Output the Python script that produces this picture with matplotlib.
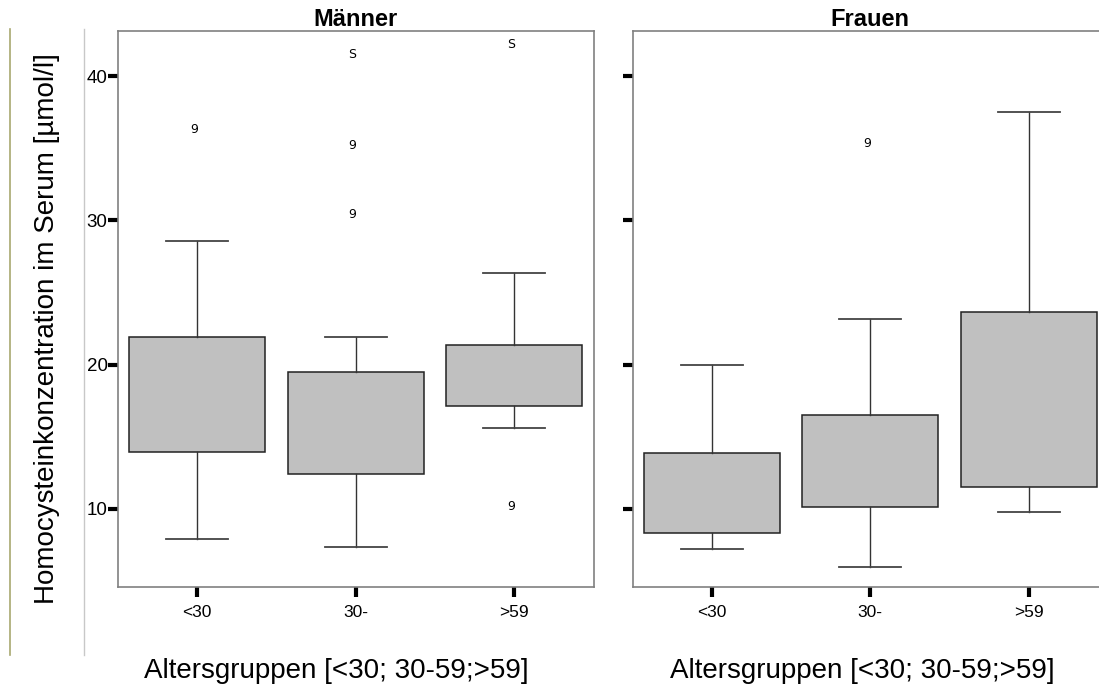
import matplotlib
matplotlib.use('Agg')
from matplotlib import pyplot

GROUPS = ['<30', '30-', '>59']

# Männer
MEN_Q1 = [13.97, 12.40, 17.14]
MEN_Q3 = [21.92, 19.47, 21.39]
MEN_LOW = [7.90, 7.37, 15.63]
MEN_HIGH = [28.60, 21.90, 26.33]
MEN_OUT_GROUP = [0, 1, 1, 1, 2, 2]
MEN_OUT_VALUE = [36.3, 41.5, 35.2, 30.4, 42.2, 10.2]
MEN_OUT_MARK = ['9', 'S', '9', '9', 'S', '9']

# Frauen
WOMEN_Q1 = [8.36, 10.12, 11.55]
WOMEN_Q3 = [13.86, 16.51, 23.67]
WOMEN_LOW = [7.20, 5.96, 9.81]
WOMEN_HIGH = [20.00, 23.17, 37.53]
WOMEN_OUT_GROUP = [1]
WOMEN_OUT_VALUE = [35.3]
WOMEN_OUT_MARK = ['9']

Y_TICKS = [10, 20, 30, 40]
Y_LABEL = 'Homocysteinkonzentration im Serum [µmol/l]'
X_LABEL = 'Altersgruppen [<30; 30-59;>59]'

W, H = 1099, 690
FRAME_COLOR = '#808080'
BOX_COLOR = '#c0c0c0'

pyplot.rcParams['font.family'] = ['Liberation Sans', 'DejaVu Sans']


def stats(q1, q3, low, high):
  return [dict(q1=a, q3=b, med=a, whislo=c, whishi=d, fliers=[])
          for a, b, c, d in zip(q1, q3, low, high)]


def panel(fig, left, title, q1, q3, low, high, out_group, out_value,
          out_mark, ticklabels):
  ax = fig.add_axes([left / W, (H - 587.3) / H, 475.5 / W, 556.6 / H])
  ax.bxp(stats(q1, q3, low, high), positions=[1, 2, 3], widths=0.855,
         capwidths=0.39, patch_artist=True, showfliers=False,
         boxprops=dict(facecolor=BOX_COLOR, edgecolor='#222222',
                       linewidth=1.1),
         whiskerprops=dict(color='#333333', linewidth=1.0),
         capprops=dict(color='#444444', linewidth=1.3),
         medianprops=dict(visible=False))
  for g, v, m in zip(out_group, out_value, out_mark):
    ax.text(g + 1 - 0.02, v, m, ha='center', va='center', fontsize=9,
            family='DejaVu Sans')
  ax.set_xlim(0.5, 3.5)
  ax.set_ylim(4.57, 43.15)
  ax.set_xticks([1, 2, 3])
  ax.set_xticklabels(GROUPS, fontsize=12.5)
  ax.set_yticks(Y_TICKS)
  if ticklabels:
    ax.set_yticklabels([str(t) for t in Y_TICKS], fontsize=13.5)
  else:
    ax.set_yticklabels([])
  ax.tick_params(direction='out', length=7.5, width=3, color='black')
  ax.tick_params(axis='y', pad=0)
  ax.tick_params(axis='x', pad=5)
  for s in ax.spines.values():
    s.set_color(FRAME_COLOR)
    s.set_linewidth(1.2)
  ax.set_title(title, fontsize=17, fontweight='bold', pad=1)
  return ax


def main():
  fig = pyplot.figure(figsize=(W / 100, H / 100), dpi=100)
  panel(fig, 118, 'Männer', MEN_Q1, MEN_Q3, MEN_LOW, MEN_HIGH,
        MEN_OUT_GROUP, MEN_OUT_VALUE, MEN_OUT_MARK, True)
  panel(fig, 632.5, 'Frauen', WOMEN_Q1, WOMEN_Q3, WOMEN_LOW, WOMEN_HIGH,
        WOMEN_OUT_GROUP, WOMEN_OUT_VALUE, WOMEN_OUT_MARK, False)
  # slide decorations on the left edge
  fig.add_artist(pyplot.Line2D([9.5 / W, 9.5 / W], [(H - 29) / H, (H - 655) / H],
                               color='#a8a870', linewidth=1.2))
  fig.add_artist(pyplot.Line2D([83.5 / W, 83.5 / W], [(H - 29) / H, (H - 655) / H],
                               color='#c8c8c8', linewidth=1.0))
  fig.text(47 / W, (H - 329) / H, Y_LABEL, rotation=90, ha='center',
           va='center', fontsize=20)
  fig.text(336 / W, (H - 671) / H, X_LABEL, ha='center', va='center',
           fontsize=20)
  fig.text(862 / W, (H - 671) / H, X_LABEL, ha='center', va='center',
           fontsize=20)
  fig.savefig('out.png', dpi=100)


if __name__ == '__main__':
  main()
